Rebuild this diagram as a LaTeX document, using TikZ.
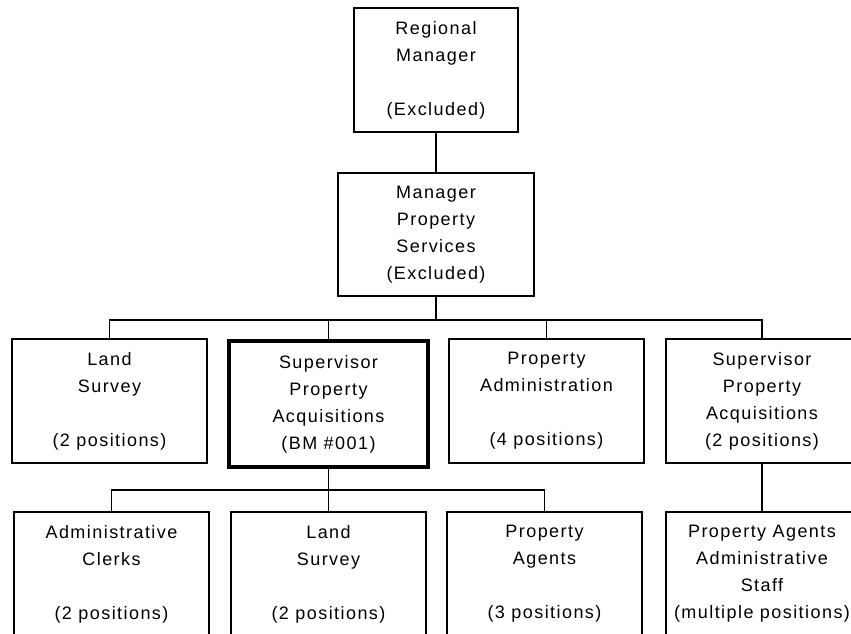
\documentclass[tikz,border=0pt]{standalone}
\usepackage{fontspec}
\setmainfont{Liberation Sans}[LetterSpace=8]
\tikzset{
  post/.style={draw, rectangle, inner sep=0pt, align=center, minimum width=195pt, minimum height=124pt,
    font=\fontsize{18}{27}\selectfont, line width=1.5pt},
  lead/.style={line width=4pt},
  link/.style={line width=1.5pt}
}
\begin{document}
\begin{tikzpicture}[x=1pt, y=-1pt]
\useasboundingbox (0,0) rectangle (851,633);
\clip (0,0) rectangle (851,633);

\node[post, minimum width=164pt] (rm) at (436,70) {Regional\\Manager\\ \\(Excluded)};
\node[post, minimum width=196pt, minimum height=123pt] (mps) at (436,234.5) {Manager\\Property\\Services\\(Excluded)};

\node[post] (ls1) at (109.5,401) {Land\\Survey\\ \\(2 positions)};
\node[post, lead, minimum width=199pt, minimum height=126pt] (spa) at (328.5,404) {Supervisor\\Property\\Acquisitions\\(BM \#001)};
\node[post] (pa) at (546.5,401) {Property\\Administration\\ \\(4 positions)};
\node[post, minimum width=192pt] (spa2) at (762,401) {Supervisor\\Property\\Acquisitions\\(2 positions)};

\node[post] (ac) at (111.5,574) {Administrative\\Clerks\\ \\(2 positions)};
\node[post] (ls2) at (328.5,574) {Land\\Survey\\ \\(2 positions)};
\node[post] (pag) at (544.5,574) {Property\\Agents\\ \\(3 positions)};
\node[post, minimum width=192pt] (paas) at (762,574) {Property Agents\\Administrative\\Staff\\(multiple positions)};

\coordinate (bus1) at (436,320);
\coordinate (bus2) at (328.5,490);

\draw[link] (rm) -- (mps);
\draw[link] (mps) -- (bus1);
\draw[link] (ls1.north) |- (bus1) -| (spa2.north);
\draw[link] (spa.north) -- (spa.north |- bus1);
\draw[link] (pa.north) -- (pa.north |- bus1);

\draw[link] (spa.south) -- (bus2);
\draw[link] (ac.north) |- (bus2) -| (pag.north);
\draw[link] (ls2.north) -- (bus2);
\draw[link] (spa2) -- (paas);
\end{tikzpicture}
\end{document}
